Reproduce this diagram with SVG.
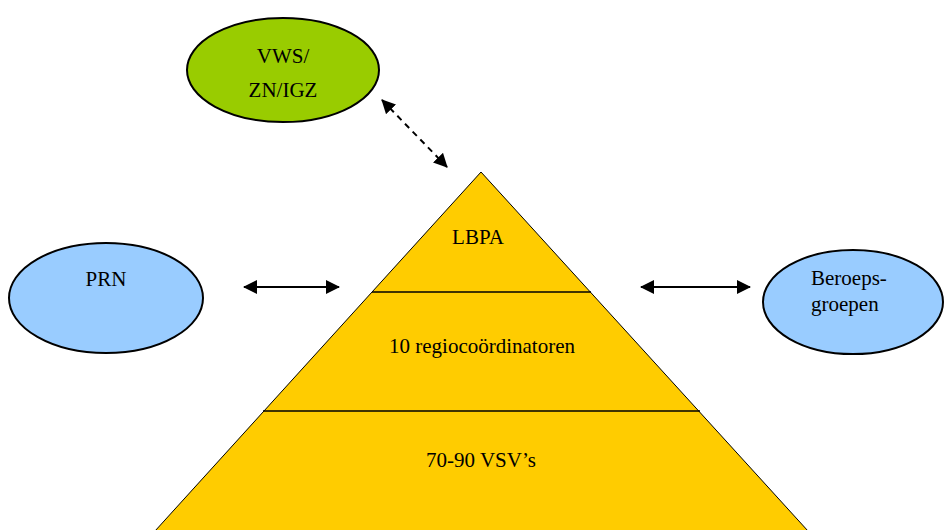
<svg xmlns="http://www.w3.org/2000/svg" width="944" height="530" viewBox="0 0 944 530">
<style>
text{font-family:"Liberation Serif","Times New Roman",serif;font-size:21px;fill:#000}
.c{text-anchor:middle}
.e{stroke:#000;stroke-width:2}
.lv{fill:#FFCC00;stroke:#000;stroke-width:1}
.ln{stroke:#000;stroke-width:2;fill:none}
</style>
<defs>
<marker id="ah" viewBox="0 0 14 14" refX="13" refY="7" markerWidth="14" markerHeight="14" markerUnits="userSpaceOnUse" orient="auto-start-reverse">
<path d="M0,0 L14,7 L0,14 Z" fill="#000"/>
</marker>
</defs>
<rect width="944" height="530" fill="#fff"/>
<g id="pyramid">
<polygon class="lv" points="481,172 155,531 808,531"/>
<line x1="372" y1="292" x2="591" y2="292" stroke="#000" stroke-width="1.5"/>
<line x1="263" y1="411" x2="700" y2="411" stroke="#000" stroke-width="1.5"/>
</g>
<g id="lbpa"><text class="c" x="478" y="244">LBPA</text></g>
<g id="regio"><text class="c" x="482" y="353">10 regiocoördinatoren</text></g>
<g id="vsv"><text class="c" x="481" y="467">70-90 VSV’s</text></g>
<g id="vws">
<ellipse class="e" cx="283" cy="70" rx="96" ry="52" fill="#99CC00"/>
<text class="c" x="283" y="63">VWS/</text>
<text class="c" x="283" y="97">ZN/IGZ</text>
</g>
<g id="prn">
<ellipse class="e" cx="106" cy="298" rx="97" ry="55" fill="#99CCFF"/>
<text class="c" x="106" y="286">PRN</text>
</g>
<g id="beroeps">
<ellipse class="e" cx="853" cy="302" rx="90" ry="52" fill="#99CCFF"/>
<text x="811" y="285">Beroeps-</text>
<text x="811" y="311">groepen</text>
</g>
<g id="connectors">
<line class="ln" x1="382" y1="100" x2="447" y2="167" stroke-dasharray="6,5" marker-start="url(#ah)" marker-end="url(#ah)"/>
<line class="ln" x1="244" y1="287" x2="339" y2="287" marker-start="url(#ah)" marker-end="url(#ah)"/>
<line class="ln" x1="641" y1="287" x2="750" y2="287" marker-start="url(#ah)" marker-end="url(#ah)"/>
</g>
</svg>
